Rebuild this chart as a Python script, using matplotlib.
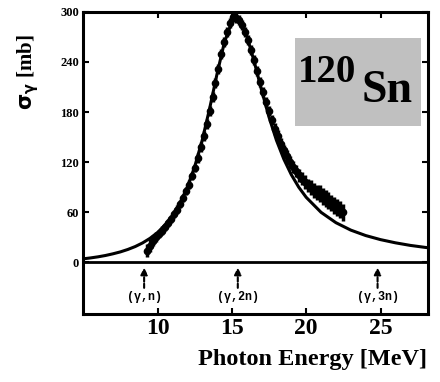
import matplotlib
matplotlib.use("Agg")
import matplotlib.pyplot as plt

# fitted Lorentzian curve
curve_e = [5.0, 5.5, 6.0, 6.5, 7.0, 7.5, 8.0, 8.5, 9.0, 9.5, 10.0, 10.5, 11.0, 11.5,
           12.0, 12.5, 13.0, 13.5, 14.0, 14.5, 15.0, 15.3, 15.6, 16.0, 16.5, 17.0,
           17.5, 18.0, 18.5, 19.0, 19.5, 20.0, 21.0, 22.0, 23.0, 24.0, 25.0, 26.0,
           27.0, 28.0, 28.2]
curve_s = [4.1, 5.2, 6.5, 8.1, 10.1, 12.4, 15.3, 18.8, 23.2, 28.7, 35.6, 44.5, 55.9, 70.6,
           89.7, 114.5, 145.8, 183.7, 225.3, 263.5, 287.8, 292.0, 287.9, 271.6, 240.5, 206.0,
           173.8, 146.1, 123.4, 104.9, 89.9, 77.8, 59.8, 47.4, 38.5, 32.0, 27.1, 23.3,
           20.2, 17.8, 17.4]

# measured points
data_e = [9.3, 9.5, 9.7, 9.9, 10.1, 10.3, 10.5, 10.7, 10.9, 11.1, 11.3, 11.5, 11.7, 11.9,
          12.1, 12.3, 12.5, 12.7, 12.9, 13.1, 13.3, 13.5, 13.7, 13.9, 14.1, 14.3, 14.5,
          14.7, 14.9, 15.1, 15.3, 15.5, 15.7, 15.9, 16.1, 16.3, 16.5, 16.7, 16.9, 17.1,
          17.3, 17.5, 17.7, 17.9, 18.1, 18.3, 18.5, 18.7, 18.9, 19.1, 19.3, 19.5, 19.7,
          19.9, 20.1, 20.3, 20.5, 20.7, 20.9, 21.1, 21.3, 21.5, 21.7, 21.9, 22.1, 22.3, 22.5]
data_s = [14, 20, 26, 30, 34, 38, 42, 47, 52, 58, 63, 70, 77, 85,
          93, 103, 113, 125, 138, 151, 166, 181, 198, 215, 232, 250, 264,
          276, 287, 294, 293, 290, 284, 276, 266, 254, 242, 229, 216, 204,
          192, 181, 170, 160, 151, 142, 134, 127, 120, 114, 109, 104, 100,
          96, 92, 89, 86, 84, 82, 79, 76, 74, 71, 68, 66, 63, 60]
data_err = [8, 8, 7, 6, 5, 5, 5, 5, 5, 5, 5, 5, 5, 5,
            5, 5, 5, 6, 6, 6, 6, 6, 6, 6, 6, 6, 6,
            6, 6, 6, 6, 6, 6, 6, 6, 6, 6, 6, 6, 6,
            6, 6, 6, 7, 7, 7, 7, 7, 7, 7, 7, 8, 8,
            8, 8, 9, 9, 9, 10, 10, 10, 10, 10, 10, 10, 10, 10]

# reaction thresholds
thr_e = [9.1, 15.4, 24.8]
thr_labels = ["(γ,n)", "(γ,2n)", "(γ,3n)"]

x_ticks = [10, 15, 20, 25]
y_ticks = [0, 60, 120, 180, 240, 300]

serif = "Liberation Serif"

fig = plt.figure(figsize=(4.4, 3.82), dpi=100)
ax = fig.add_axes([0.189, 0.178, 0.784, 0.791])

ax.plot(curve_e, curve_s, color="black", lw=2.2, zorder=3)
ax.errorbar(data_e, data_s, yerr=data_err, fmt="o", ms=4.5,
            color="black", ecolor="black", elinewidth=2.5, capsize=0, zorder=4)

ax.axhline(0, color="black", lw=2)

for e, lab in zip(thr_e, thr_labels):
    ax.annotate("", xy=(e, -3), xytext=(e, -34),
                arrowprops=dict(arrowstyle="-|>", color="black", lw=1.5, ls=(0, (2, 1)),
                                mutation_scale=10))
    ax.text(e, -42, lab, ha="center", va="center", fontsize=8.5, fontweight="bold",
            family=["Liberation Mono", "DejaVu Sans Mono"])

ax.set_xlim(5, 28.2)
ax.set_ylim(-62, 300)
ax.set_xticks(x_ticks)
ax.set_yticks(y_ticks)
ax.set_xticklabels([str(t) for t in x_ticks], fontsize=17, fontweight="bold", family=serif)
ax.set_yticklabels([str(t) for t in y_ticks], fontsize=9, fontweight="bold", family=serif)
ax.tick_params(direction="in", length=4, width=1.5, top=True, right=True, pad=3)
for sp in ax.spines.values():
    sp.set_linewidth(2.2)

fig.text(198 / 440, 1 - 360 / 382, "Photon Energy [MeV]", fontsize=17.5, fontweight="bold",
         family=serif, ha="left", va="center")
fig.text(28 / 440, 1 - 72 / 382, r"$\mathbf{\sigma_\gamma}$ [mb]", fontsize=15,
         fontweight="bold", family=serif, rotation=90, ha="center", va="center")

# gray label box
ax.add_patch(plt.Rectangle((295 / 440, 1 - 126 / 382), 126 / 440, 88 / 382,
                           transform=fig.transFigure, facecolor="#c0c0c0",
                           edgecolor="none", zorder=5))
fig.text(298 / 440, 1 - 82 / 382, "120", fontsize=28, fontweight="bold", family=serif,
         ha="left", va="baseline", zorder=6)
fig.text(362 / 440, 1 - 102 / 382, "Sn", fontsize=33, fontweight="bold", family=serif,
         ha="left", va="baseline", zorder=6)

fig.savefig("out.png", dpi=100)
